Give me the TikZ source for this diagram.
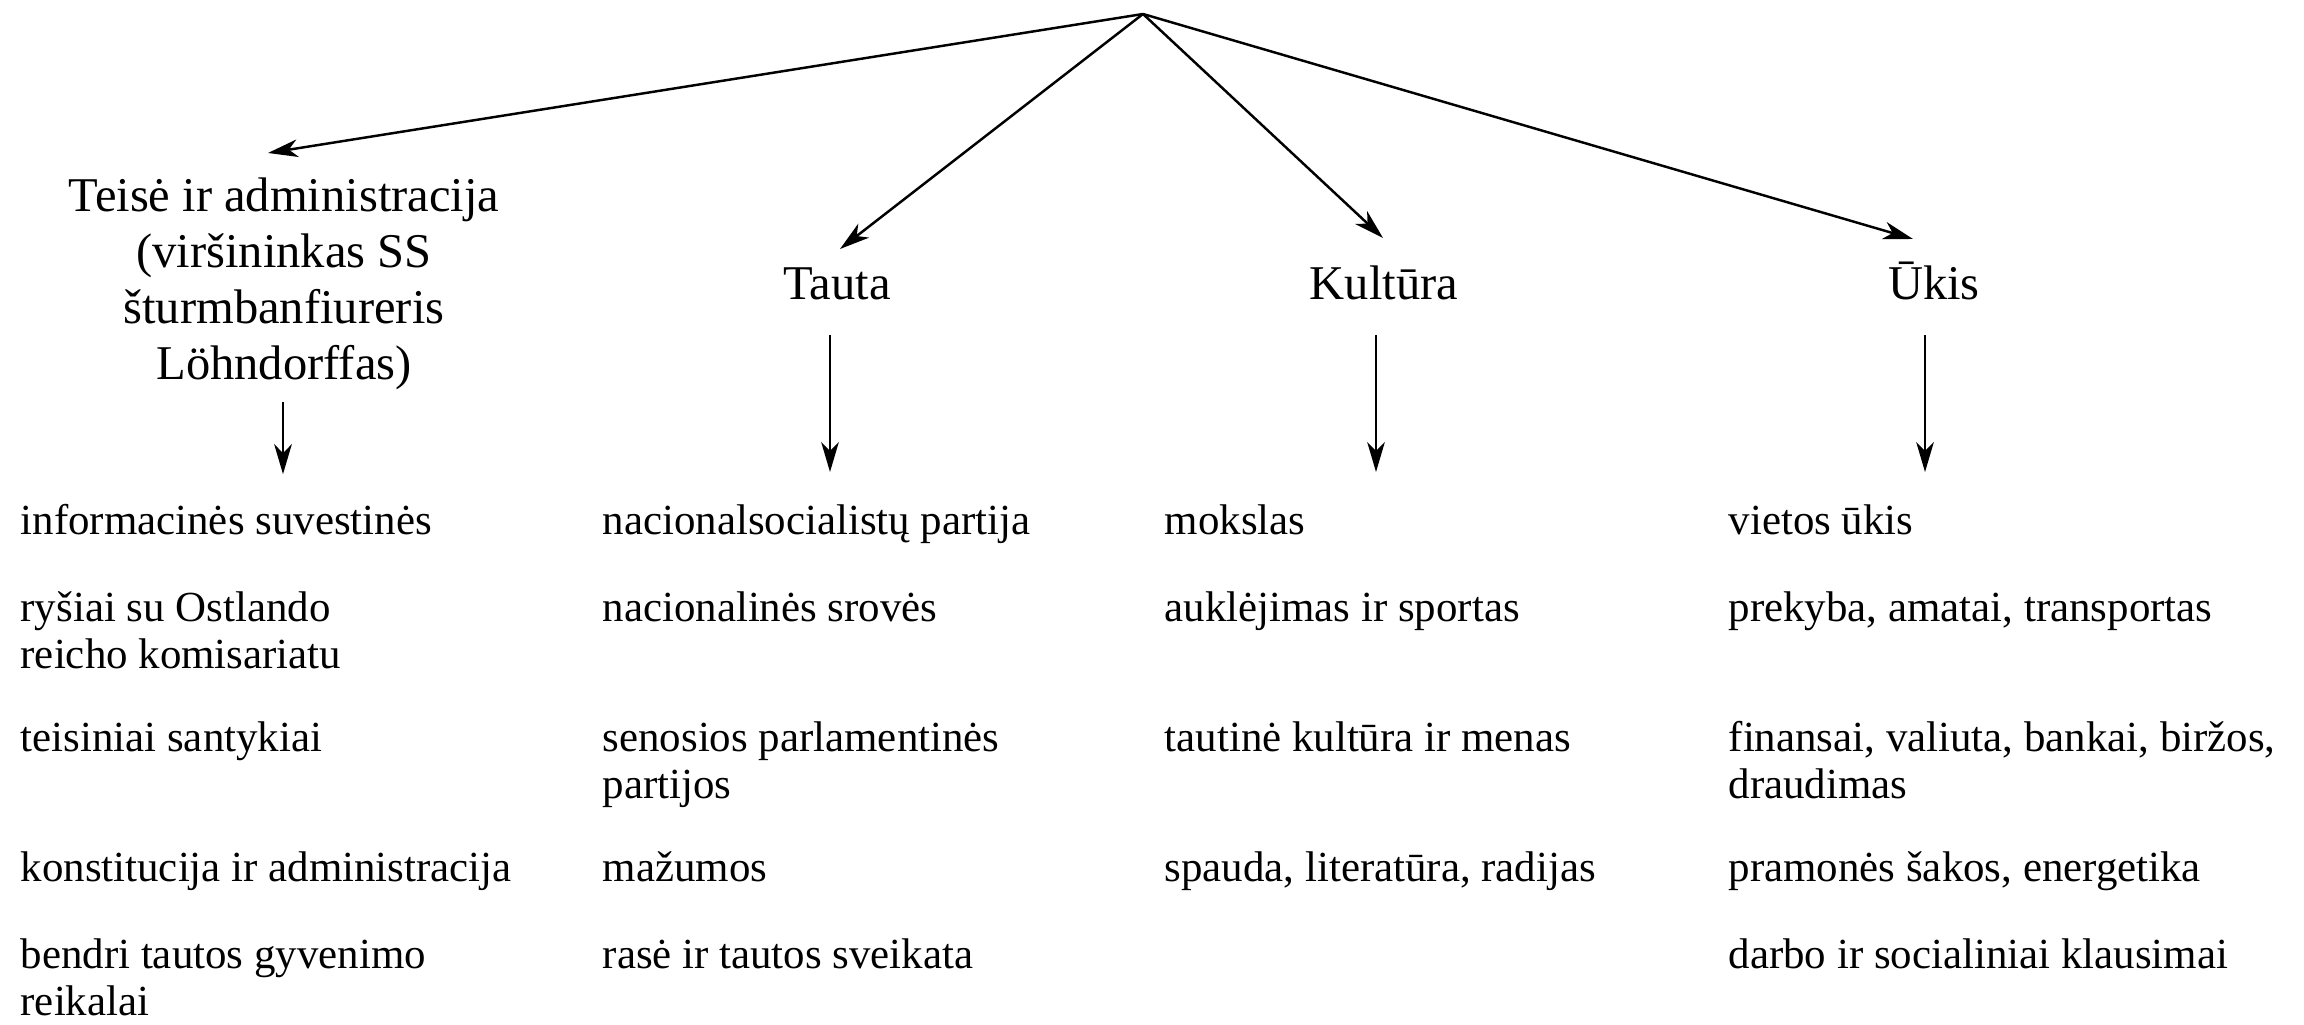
\documentclass[tikz,border=0pt]{standalone}
\usepackage{fontspec}
\setmainfont{Liberation Serif}
\usetikzlibrary{calc, positioning, arrows.meta}
\newcommand\colA{20}
\newcommand\colB{602}
\newcommand\colC{1164}
\newcommand\colD{1728}
\newcommand\areaitem[4]{\node[itemtext] (#1) at (#2,#3) {#4};}

\begin{document}
\begin{tikzpicture}[x=0.01cm, y=-0.01cm,
  itemtext/.style={anchor=north west, inner sep=0pt, align=left, font=\fontsize{12.2}{13.3}\selectfont},
  deptname/.style={inner sep=0pt, align=center, font=\fontsize{13.8}{15.9}\selectfont},
  arr/.style={-{Stealth[length=8.5pt, width=5pt, inset=2.5pt]}, line width=0.7pt}]
\useasboundingbox (0,0) rectangle (2304,1025);

\coordinate (apex) at (1143,14);

% departments
\node[deptname, anchor=north] (teise) at (284,177) {Teisė ir administracija\\(viršininkas SS\\šturmbanfiureris\\Löhndorffas)};
\node[deptname, anchor=base] (tauta) at (837,300) {Tauta};
\node[deptname, anchor=base] (kultura) at (1384,300) {Kultūra};
\node[deptname, anchor=base] (ukis) at (1934,300) {Ūkis};

\draw[arr] (apex) -- ([shift={(-16,-24)}]teise.north);
\draw[arr] (apex) -- ([shift={(3,-51)}]tauta.base);
\draw[arr] (apex) -- ([shift={(-1,-62)}]kultura.base);
\draw[arr] (apex) -- ([shift={(-21,-61)}]ukis.base);

\draw[arr] ([shift={(-1,12)}]teise.south) -- ++(0,72);
\draw[arr] ([shift={(-7,35)}]tauta.base) -- ++(0,137);
\draw[arr] ([shift={(-8,35)}]kultura.base) -- ++(0,137);
\draw[arr] ([shift={(-9,35)}]ukis.base) -- ++(0,137);

% Teise ir administracija
\areaitem{t1}{\colA}{504}{informacinės suvestinės}
\areaitem{t2}{\colA}{591}{ryšiai su Ostlando\\reicho komisariatu}
\areaitem{t3}{\colA}{721}{teisiniai santykiai}
\areaitem{t4}{\colA}{851}{konstitucija ir administracija}
\areaitem{t5}{\colA}{938}{bendri tautos gyvenimo\\reikalai}

% Tauta
\areaitem{n1}{\colB}{504}{nacionalsocialistų partija}
\areaitem{n2}{\colB}{591}{nacionalinės srovės}
\areaitem{n3}{\colB}{721}{senosios parlamentinės\\partijos}
\areaitem{n4}{\colB}{851}{mažumos}
\areaitem{n5}{\colB}{938}{rasė ir tautos sveikata}

% Kultura
\areaitem{k1}{\colC}{504}{mokslas}
\areaitem{k2}{\colC}{591}{auklėjimas ir sportas}
\areaitem{k3}{\colC}{721}{tautinė kultūra ir menas}
\areaitem{k4}{\colC}{851}{spauda, literatūra, radijas}

% Ukis
\areaitem{u1}{\colD}{504}{vietos ūkis}
\areaitem{u2}{\colD}{591}{prekyba, amatai, transportas}
\areaitem{u3}{\colD}{721}{finansai, valiuta, bankai, biržos,\\draudimas}
\areaitem{u4}{\colD}{851}{pramonės šakos, energetika}
\areaitem{u5}{\colD}{938}{darbo ir socialiniai klausimai}

\end{tikzpicture}
\end{document}
